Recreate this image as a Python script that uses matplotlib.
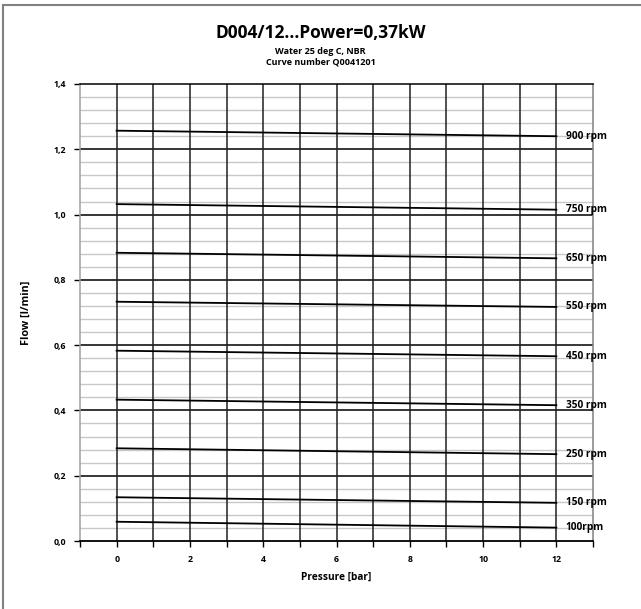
import matplotlib
matplotlib.use("Agg")
import matplotlib.pyplot as plt
from matplotlib.patches import Rectangle
from matplotlib.ticker import FixedLocator

plt.rcParams['font.family'] = ['Open Sans', 'DejaVu Sans']

# Pump curves: flow [l/min] at pressure 0 and 12 bar
pressure = [0, 12]
speeds = ['900 rpm', '750 rpm', '650 rpm', '550 rpm', '450 rpm',
          '350 rpm', '250 rpm', '150 rpm', '100rpm']
flow_900 = [1.257, 1.240]
flow_750 = [1.032, 1.015]
flow_650 = [0.883, 0.866]
flow_550 = [0.733, 0.717]
flow_450 = [0.583, 0.566]
flow_350 = [0.433, 0.416]
flow_250 = [0.284, 0.266]
flow_150 = [0.134, 0.117]
flow_100 = [0.059, 0.041]
flows = [flow_900, flow_750, flow_650, flow_550, flow_450,
         flow_350, flow_250, flow_150, flow_100]

x_labels = ['0', '2', '4', '6', '8', '10', '12']
y_ticks = [0.0, 0.2, 0.4, 0.6, 0.8, 1.0, 1.2, 1.4]
y_labels = ['0,0', '0,2', '0,4', '0,6', '0,8', '1,0', '1,2', '1,4']

fig = plt.figure(figsize=(6.41, 6.09), dpi=100)
ax = fig.add_axes([80 / 641, 1 - 541 / 609, 513 / 641, 457 / 609])

ax.set_xlim(-1, 13)
ax.set_ylim(0, 1.4)

# grid: light minor horizontals, black majors, dark verticals
for i in range(1, 35):
    if i % 5:
        ax.axhline(i * 0.04, color='#c8c8c8', linewidth=1.0, zorder=1)
for y in y_ticks[1:-1]:
    ax.axhline(y, color='black', linewidth=1.1, zorder=2)
for x in range(0, 13):
    ax.axvline(x, color='#202020', linewidth=1.1, zorder=2)

for f, name in zip(flows, speeds):
    ax.plot(pressure, f, color='black', linewidth=1.3, zorder=3)
    ax.text(12.26, f[-1], name, fontsize=7.3, fontweight='bold',
            va='center', ha='left', zorder=4)

x_ticks = list(range(-1, 14))
ax.xaxis.set_major_locator(FixedLocator(x_ticks))
ax.set_xticklabels([x_labels[t // 2] if (0 <= t <= 12 and t % 2 == 0) else ''
                    for t in x_ticks])
ax.yaxis.set_major_locator(FixedLocator(y_ticks))
ax.set_yticklabels(y_labels)
ax.tick_params(axis='both', direction='out', length=4, width=1,
               labelsize=6.3, color='black', pad=6)
for lbl in ax.get_xticklabels() + ax.get_yticklabels():
    lbl.set_fontweight('bold')

ax.spines['left'].set_color('#a0a0a0')
ax.spines['right'].set_color('#808080')
ax.spines['top'].set_color('black')
ax.spines['bottom'].set_color('black')
ax.spines['bottom'].set_linewidth(1.3)
for s in ['left', 'right', 'top']:
    ax.spines[s].set_linewidth(1.1)

ax.set_xlabel('Pressure [bar]', fontsize=7.3, fontweight='bold', labelpad=6)
ax.set_ylabel('Flow [l/min]', fontsize=7.8, fontweight='bold', labelpad=16)

fig.text(0.5, 1 - 33 / 609, 'D004/12...Power=0,37kW', ha='center',
         va='center', fontsize=12.5, fontweight='bold')
fig.text(0.5, 1 - 51 / 609, 'Water 25 deg C, NBR', ha='center',
         va='center', fontsize=6.5, fontweight='bold')
fig.text(0.5, 1 - 62 / 609, 'Curve number Q0041201', ha='center',
         va='center', fontsize=6.5, fontweight='bold')

# outer frame (only left and top edges are visible in the crop)
fig.patches.append(Rectangle((3 / 641, -0.1), 1.2, 1 - 5 / 609 + 0.1,
                             transform=fig.transFigure, fill=False,
                             edgecolor='#808080', linewidth=1.5))

fig.savefig('out.png', dpi=100)
